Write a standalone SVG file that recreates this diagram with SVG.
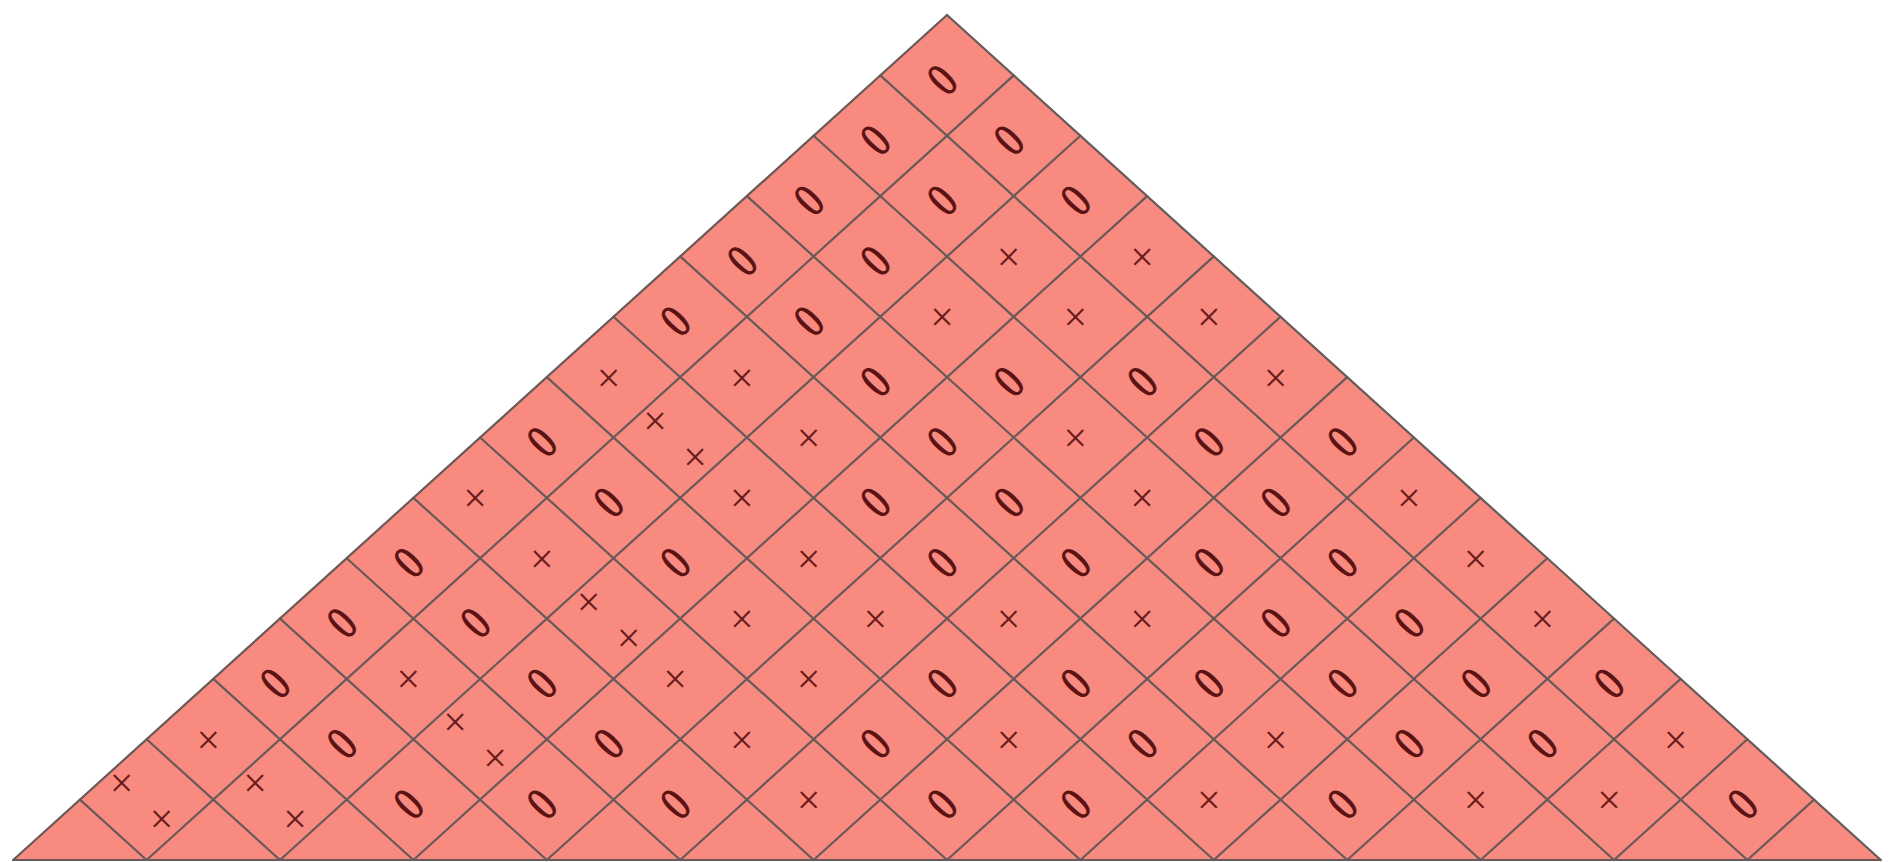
<svg xmlns="http://www.w3.org/2000/svg" width="1893" height="862" viewBox="0 0 1893 862">
<style>
.bg{fill:#f98a80;stroke:none}
.ln{stroke:#675a58;stroke-width:2.2;fill:none;stroke-linecap:round}
.o{font-family:"Liberation Serif",serif;font-size:28px;text-anchor:middle;fill:#5a1212;stroke:#5a1212;stroke-width:0.6}
.x{font-family:"Liberation Serif",serif;font-size:42px;text-anchor:middle;fill:#6a1c1c}
</style>
<rect x="0" y="0" width="1893" height="862" fill="#ffffff"/>
<polygon id="triangle" class="bg" points="947,15 13.2,860 1880.8,860"/>
<g id="grid" class="ln">
<line x1="947" y1="15" x2="13.2" y2="860"/>
<line x1="1013.7" y1="75.357" x2="146.6" y2="860"/>
<line x1="1080.4" y1="135.714" x2="280" y2="860"/>
<line x1="1147.1" y1="196.071" x2="413.4" y2="860"/>
<line x1="1213.8" y1="256.429" x2="546.8" y2="860"/>
<line x1="1280.5" y1="316.786" x2="680.2" y2="860"/>
<line x1="1347.2" y1="377.143" x2="813.6" y2="860"/>
<line x1="1413.9" y1="437.5" x2="947" y2="860"/>
<line x1="1480.6" y1="497.857" x2="1080.4" y2="860"/>
<line x1="1547.3" y1="558.214" x2="1213.8" y2="860"/>
<line x1="1614" y1="618.571" x2="1347.2" y2="860"/>
<line x1="1680.7" y1="678.929" x2="1480.6" y2="860"/>
<line x1="1747.4" y1="739.286" x2="1614" y2="860"/>
<line x1="1814.1" y1="799.643" x2="1747.4" y2="860"/>
<line x1="947" y1="15" x2="1880.8" y2="860"/>
<line x1="880.3" y1="75.357" x2="1747.4" y2="860"/>
<line x1="813.6" y1="135.714" x2="1614" y2="860"/>
<line x1="746.9" y1="196.071" x2="1480.6" y2="860"/>
<line x1="680.2" y1="256.429" x2="1347.2" y2="860"/>
<line x1="613.5" y1="316.786" x2="1213.8" y2="860"/>
<line x1="546.8" y1="377.143" x2="1080.4" y2="860"/>
<line x1="480.1" y1="437.5" x2="947" y2="860"/>
<line x1="413.4" y1="497.857" x2="813.6" y2="860"/>
<line x1="346.7" y1="558.214" x2="680.2" y2="860"/>
<line x1="280" y1="618.571" x2="546.8" y2="860"/>
<line x1="213.3" y1="678.929" x2="413.4" y2="860"/>
<line x1="146.6" y1="739.286" x2="280" y2="860"/>
<line x1="79.9" y1="799.643" x2="146.6" y2="860"/>
<line x1="13.2" y1="860" x2="1880.8" y2="860"/>
</g>
<g id="labels">
<g id="c0-0"><text class="o" transform="translate(942,79.36) rotate(-46) scale(1.35,1.7)" y="9.5">0</text></g>
<g id="c1-0"><text class="o" transform="translate(875.3,139.71) rotate(-46) scale(1.35,1.7)" y="9.5">0</text></g>
<g id="c1-1"><text class="o" transform="translate(1008.7,139.71) rotate(-46) scale(1.35,1.7)" y="9.5">0</text></g>
<g id="c2-0"><text class="o" transform="translate(808.6,200.07) rotate(-46) scale(1.35,1.7)" y="9.5">0</text></g>
<g id="c2-1"><text class="o" transform="translate(942,200.07) rotate(-46) scale(1.35,1.7)" y="9.5">0</text></g>
<g id="c2-2"><text class="o" transform="translate(1075.4,200.07) rotate(-46) scale(1.35,1.7)" y="9.5">0</text></g>
<g id="c3-0"><text class="o" transform="translate(741.9,260.43) rotate(-46) scale(1.35,1.7)" y="9.5">0</text></g>
<g id="c3-1"><text class="o" transform="translate(875.3,260.43) rotate(-46) scale(1.35,1.7)" y="9.5">0</text></g>
<g id="c3-2"><text class="x" x="1008.7" y="270.93">×</text></g>
<g id="c3-3"><text class="x" x="1142.1" y="270.93">×</text></g>
<g id="c4-0"><text class="o" transform="translate(675.2,320.79) rotate(-46) scale(1.35,1.7)" y="9.5">0</text></g>
<g id="c4-1"><text class="o" transform="translate(808.6,320.79) rotate(-46) scale(1.35,1.7)" y="9.5">0</text></g>
<g id="c4-2"><text class="x" x="942" y="331.29">×</text></g>
<g id="c4-3"><text class="x" x="1075.4" y="331.29">×</text></g>
<g id="c4-4"><text class="x" x="1208.8" y="331.29">×</text></g>
<g id="c5-0"><text class="x" x="608.5" y="391.64">×</text></g>
<g id="c5-1"><text class="x" x="741.9" y="391.64">×</text></g>
<g id="c5-2"><text class="o" transform="translate(875.3,381.14) rotate(-46) scale(1.35,1.7)" y="9.5">0</text></g>
<g id="c5-3"><text class="o" transform="translate(1008.7,381.14) rotate(-46) scale(1.35,1.7)" y="9.5">0</text></g>
<g id="c5-4"><text class="o" transform="translate(1142.1,381.14) rotate(-46) scale(1.35,1.7)" y="9.5">0</text></g>
<g id="c5-5"><text class="x" x="1275.5" y="391.64">×</text></g>
<g id="c6-0"><text class="o" transform="translate(541.8,441.5) rotate(-46) scale(1.35,1.7)" y="9.5">0</text></g>
<g id="c6-1"><text class="x" x="655.2" y="434.5">×</text><text class="x" x="695.2" y="470.5">×</text></g>
<g id="c6-2"><text class="x" x="808.6" y="452">×</text></g>
<g id="c6-3"><text class="o" transform="translate(942,441.5) rotate(-46) scale(1.35,1.7)" y="9.5">0</text></g>
<g id="c6-4"><text class="x" x="1075.4" y="452">×</text></g>
<g id="c6-5"><text class="o" transform="translate(1208.8,441.5) rotate(-46) scale(1.35,1.7)" y="9.5">0</text></g>
<g id="c6-6"><text class="o" transform="translate(1342.2,441.5) rotate(-46) scale(1.35,1.7)" y="9.5">0</text></g>
<g id="c7-0"><text class="x" x="475.1" y="512.36">×</text></g>
<g id="c7-1"><text class="o" transform="translate(608.5,501.86) rotate(-46) scale(1.35,1.7)" y="9.5">0</text></g>
<g id="c7-2"><text class="x" x="741.9" y="512.36">×</text></g>
<g id="c7-3"><text class="o" transform="translate(875.3,501.86) rotate(-46) scale(1.35,1.7)" y="9.5">0</text></g>
<g id="c7-4"><text class="o" transform="translate(1008.7,501.86) rotate(-46) scale(1.35,1.7)" y="9.5">0</text></g>
<g id="c7-5"><text class="x" x="1142.1" y="512.36">×</text></g>
<g id="c7-6"><text class="o" transform="translate(1275.5,501.86) rotate(-46) scale(1.35,1.7)" y="9.5">0</text></g>
<g id="c7-7"><text class="x" x="1408.9" y="512.36">×</text></g>
<g id="c8-0"><text class="o" transform="translate(408.4,562.21) rotate(-46) scale(1.35,1.7)" y="9.5">0</text></g>
<g id="c8-1"><text class="x" x="541.8" y="572.71">×</text></g>
<g id="c8-2"><text class="o" transform="translate(675.2,562.21) rotate(-46) scale(1.35,1.7)" y="9.5">0</text></g>
<g id="c8-3"><text class="x" x="808.6" y="572.71">×</text></g>
<g id="c8-4"><text class="o" transform="translate(942,562.21) rotate(-46) scale(1.35,1.7)" y="9.5">0</text></g>
<g id="c8-5"><text class="o" transform="translate(1075.4,562.21) rotate(-46) scale(1.35,1.7)" y="9.5">0</text></g>
<g id="c8-6"><text class="o" transform="translate(1208.8,562.21) rotate(-46) scale(1.35,1.7)" y="9.5">0</text></g>
<g id="c8-7"><text class="o" transform="translate(1342.2,562.21) rotate(-46) scale(1.35,1.7)" y="9.5">0</text></g>
<g id="c8-8"><text class="x" x="1475.6" y="572.71">×</text></g>
<g id="c9-0"><text class="o" transform="translate(341.7,622.57) rotate(-46) scale(1.35,1.7)" y="9.5">0</text></g>
<g id="c9-1"><text class="o" transform="translate(475.1,622.57) rotate(-46) scale(1.35,1.7)" y="9.5">0</text></g>
<g id="c9-2"><text class="x" x="588.5" y="615.57">×</text><text class="x" x="628.5" y="651.57">×</text></g>
<g id="c9-3"><text class="x" x="741.9" y="633.07">×</text></g>
<g id="c9-4"><text class="x" x="875.3" y="633.07">×</text></g>
<g id="c9-5"><text class="x" x="1008.7" y="633.07">×</text></g>
<g id="c9-6"><text class="x" x="1142.1" y="633.07">×</text></g>
<g id="c9-7"><text class="o" transform="translate(1275.5,622.57) rotate(-46) scale(1.35,1.7)" y="9.5">0</text></g>
<g id="c9-8"><text class="o" transform="translate(1408.9,622.57) rotate(-46) scale(1.35,1.7)" y="9.5">0</text></g>
<g id="c9-9"><text class="x" x="1542.3" y="633.07">×</text></g>
<g id="c10-0"><text class="o" transform="translate(275,682.93) rotate(-46) scale(1.35,1.7)" y="9.5">0</text></g>
<g id="c10-1"><text class="x" x="408.4" y="693.43">×</text></g>
<g id="c10-2"><text class="o" transform="translate(541.8,682.93) rotate(-46) scale(1.35,1.7)" y="9.5">0</text></g>
<g id="c10-3"><text class="x" x="675.2" y="693.43">×</text></g>
<g id="c10-4"><text class="x" x="808.6" y="693.43">×</text></g>
<g id="c10-5"><text class="o" transform="translate(942,682.93) rotate(-46) scale(1.35,1.7)" y="9.5">0</text></g>
<g id="c10-6"><text class="o" transform="translate(1075.4,682.93) rotate(-46) scale(1.35,1.7)" y="9.5">0</text></g>
<g id="c10-7"><text class="o" transform="translate(1208.8,682.93) rotate(-46) scale(1.35,1.7)" y="9.5">0</text></g>
<g id="c10-8"><text class="o" transform="translate(1342.2,682.93) rotate(-46) scale(1.35,1.7)" y="9.5">0</text></g>
<g id="c10-9"><text class="o" transform="translate(1475.6,682.93) rotate(-46) scale(1.35,1.7)" y="9.5">0</text></g>
<g id="c10-10"><text class="o" transform="translate(1609,682.93) rotate(-46) scale(1.35,1.7)" y="9.5">0</text></g>
<g id="c11-0"><text class="x" x="208.3" y="753.79">×</text></g>
<g id="c11-1"><text class="o" transform="translate(341.7,743.29) rotate(-46) scale(1.35,1.7)" y="9.5">0</text></g>
<g id="c11-2"><text class="x" x="455.1" y="736.29">×</text><text class="x" x="495.1" y="772.29">×</text></g>
<g id="c11-3"><text class="o" transform="translate(608.5,743.29) rotate(-46) scale(1.35,1.7)" y="9.5">0</text></g>
<g id="c11-4"><text class="x" x="741.9" y="753.79">×</text></g>
<g id="c11-5"><text class="o" transform="translate(875.3,743.29) rotate(-46) scale(1.35,1.7)" y="9.5">0</text></g>
<g id="c11-6"><text class="x" x="1008.7" y="753.79">×</text></g>
<g id="c11-7"><text class="o" transform="translate(1142.1,743.29) rotate(-46) scale(1.35,1.7)" y="9.5">0</text></g>
<g id="c11-8"><text class="x" x="1275.5" y="753.79">×</text></g>
<g id="c11-9"><text class="o" transform="translate(1408.9,743.29) rotate(-46) scale(1.35,1.7)" y="9.5">0</text></g>
<g id="c11-10"><text class="o" transform="translate(1542.3,743.29) rotate(-46) scale(1.35,1.7)" y="9.5">0</text></g>
<g id="c11-11"><text class="x" x="1675.7" y="753.79">×</text></g>
<g id="c12-0"><text class="x" x="121.6" y="796.64">×</text><text class="x" x="161.6" y="832.64">×</text></g>
<g id="c12-1"><text class="x" x="255" y="796.64">×</text><text class="x" x="295" y="832.64">×</text></g>
<g id="c12-2"><text class="o" transform="translate(408.4,803.64) rotate(-46) scale(1.35,1.7)" y="9.5">0</text></g>
<g id="c12-3"><text class="o" transform="translate(541.8,803.64) rotate(-46) scale(1.35,1.7)" y="9.5">0</text></g>
<g id="c12-4"><text class="o" transform="translate(675.2,803.64) rotate(-46) scale(1.35,1.7)" y="9.5">0</text></g>
<g id="c12-5"><text class="x" x="808.6" y="814.14">×</text></g>
<g id="c12-6"><text class="o" transform="translate(942,803.64) rotate(-46) scale(1.35,1.7)" y="9.5">0</text></g>
<g id="c12-7"><text class="o" transform="translate(1075.4,803.64) rotate(-46) scale(1.35,1.7)" y="9.5">0</text></g>
<g id="c12-8"><text class="x" x="1208.8" y="814.14">×</text></g>
<g id="c12-9"><text class="o" transform="translate(1342.2,803.64) rotate(-46) scale(1.35,1.7)" y="9.5">0</text></g>
<g id="c12-10"><text class="x" x="1475.6" y="814.14">×</text></g>
<g id="c12-11"><text class="x" x="1609" y="814.14">×</text></g>
<g id="c12-12"><text class="o" transform="translate(1742.4,803.64) rotate(-46) scale(1.35,1.7)" y="9.5">0</text></g>
</g>
</svg>
